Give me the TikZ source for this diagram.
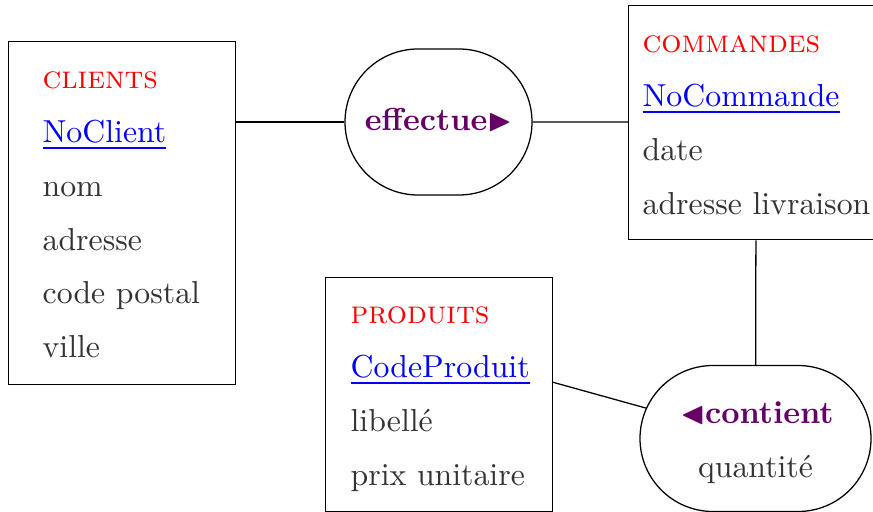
\documentclass[tikz,border=0pt]{standalone}
\usepackage{amssymb}
\usetikzlibrary{shapes.misc}
\definecolor{relcol}{RGB}{102,0,102}
\definecolor{txt}{RGB}{51,51,51}
\def\pxu{0.3145pt}
\newcommand\keyul[1]{\setbox0\hbox{#1}\rlap{\raisebox{-1.9pt}{\rule{\wd0}{0.6pt}}}\box0}
\begin{document}
\begin{tikzpicture}[x=0.3145pt,y=-0.3145pt,
  entitybox/.style={draw, rectangle, inner sep=0pt, anchor=north west},
  assoc/.style={draw, rounded rectangle, inner sep=0pt},
  attr/.style={anchor=base west, inner sep=0pt, text=txt},
  enttitle/.style={anchor=base west, inner sep=0pt, text=red, font=\scshape},
  keyattr/.style={anchor=base west, inner sep=0pt, text=blue},
  assocname/.style={anchor=base, inner sep=0pt, text=relcol, font=\bfseries},
  assocattr/.style={anchor=base, inner sep=0pt, text=txt}]
\useasboundingbox (0,0) rectangle (873,512);
% entities
\node[entitybox, minimum width={227*\pxu}, minimum height={343*\pxu}] (clients) at (8,41) {};
\node[enttitle] (cT) at (42,89) {clients};
\node[keyattr] (c1) at (42,142.7) {\keyul{NoClient}};
\node[attr] (c2) at (42,196.4) {nom};
\node[attr] (c3) at (42,250.1) {adresse};
\node[attr] (c4) at (42,303.8) {code postal};
\node[attr] (c5) at (42,357.5) {ville};

\node[entitybox, minimum width={255*\pxu}, minimum height={234*\pxu}] (commandes) at (628,5) {};
\node[enttitle] (mT) at (642,53) {commandes};
\node[keyattr] (m1) at (642,106.7) {\keyul{NoCommande}};
\node[attr] (m2) at (642,160.4) {date};
\node[attr] (m3) at (642,214.1) {adresse livraison};

\node[entitybox, minimum width={227*\pxu}, minimum height={234*\pxu}] (produits) at (325,277) {};
\node[enttitle] (pT) at (350,324) {produits};
\node[keyattr] (p1) at (350,377.7) {\keyul{CodeProduit}};
\node[attr] (p2) at (350,431.4) {libellé};
\node[attr] (p3) at (350,485.1) {prix unitaire};

% associations
\node[assoc, minimum width={187*\pxu}, minimum height={146*\pxu}] (effectue) at (438.5,122) {};
\node[assocname] (eN) at (438.5,131) {effectue$\blacktriangleright$};

\node[assoc, minimum width={231*\pxu}, minimum height={146*\pxu}] (contient) at (755.5,438.5) {};
\node[assocname] (kN) at (757,423) {$\blacktriangleleft$contient};
\node[assocattr] (k1) at (755.5,477) {quantité};

% links
\coordinate (pa) at (552,382);
\draw (clients.east |- effectue) -- (effectue);
\draw (effectue) -- (commandes.west |- effectue);
\draw (commandes) -- (contient);
\draw (pa) -- (contient);
\end{tikzpicture}
\end{document}
